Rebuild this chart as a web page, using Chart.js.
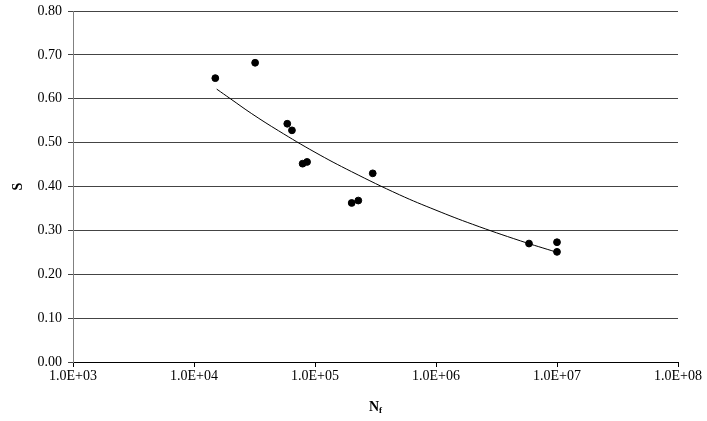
<!DOCTYPE html>
<html>
<head>
<meta charset="utf-8">
<script src="https://cdn.jsdelivr.net/npm/chart.js@4"></script>
<style>
  html, body { margin: 0; padding: 0; background: #fff; }
  #wrap { width: 707px; height: 421px; }
</style>
</head>
<body>
<div id="wrap"><canvas id="snChart"></canvas></div>
<script>
// measured points (cycles to failure, stress ratio)
const cycles = [15000, 32000, 59000, 64500, 79000, 86000, 201000, 228000, 300000, 5870000, 10000000, 10000000];
const stress = [0.647, 0.682, 0.543, 0.528, 0.452, 0.456, 0.3625, 0.368, 0.430, 0.270, 0.273, 0.251];

// trend line
const trendCycles = [15400, 20000, 30000, 50000, 100000, 200000, 500000, 1000000, 2000000, 5000000, 10000000];
const trendStress = [0.622, 0.600, 0.566, 0.527, 0.478, 0.434, 0.381, 0.346, 0.314, 0.276, 0.250];

const xTicks = [1e3, 1e4, 1e5, 1e6, 1e7, 1e8];
const xTickLabels = ['1.0E+03', '1.0E+04', '1.0E+05', '1.0E+06', '1.0E+07', '1.0E+08'];

const serif = 'Liberation Serif, Times New Roman, serif';

// axis titles: "S" rotated and N with subscript f
const axisTitles = {
    id: 'axisTitles',
    afterDraw(chart) {
        const ctx = chart.ctx;
        const area = chart.chartArea;
        ctx.save();
        ctx.fillStyle = '#000';
        ctx.textBaseline = 'middle';

        ctx.font = 'bold 14px ' + serif;
        const cx = (area.left + area.right) / 2;
        const ty = 407;
        const wN = ctx.measureText('N').width;
        ctx.font = 'bold 9px ' + serif;
        const wf = ctx.measureText('f').width;
        const start = cx - (wN + wf) / 2;
        ctx.textAlign = 'left';
        ctx.font = 'bold 14px ' + serif;
        ctx.fillText('N', start, ty);
        ctx.font = 'bold 9px ' + serif;
        ctx.fillText('f', start + wN, ty + 4);

        ctx.translate(18, (area.top + area.bottom) / 2);
        ctx.rotate(-Math.PI / 2);
        ctx.textAlign = 'center';
        ctx.font = 'bold 14px ' + serif;
        ctx.fillText('S', 0, 0);
        ctx.restore();
    }
};

const pts = cycles.map((c, i) => ({ x: c, y: stress[i] }));
const trend = trendCycles.map((c, i) => ({ x: c, y: trendStress[i] }));

new Chart(document.getElementById('snChart'), {
    type: 'scatter',
    data: {
        datasets: [
            {
                data: pts,
                backgroundColor: '#000',
                borderColor: '#000',
                pointRadius: 3.4,
                pointHoverRadius: 3.4
            },
            {
                data: trend,
                showLine: true,
                borderColor: '#000',
                borderWidth: 1,
                pointRadius: 0,
                tension: 0.4,
                fill: false
            }
        ]
    },
    options: {
        responsive: true,
        maintainAspectRatio: false,
        animation: false,
        layout: { padding: { top: 11, right: 29, left: 0, bottom: 0 } },
        plugins: {
            legend: { display: false },
            tooltip: { enabled: false }
        },
        scales: {
            x: {
                type: 'logarithmic',
                min: 1e3,
                max: 1e8,
                afterBuildTicks: scale => { scale.ticks = xTicks.map(v => ({ value: v })); },
                afterFit: scale => { scale.height = 59; },
                ticks: {
                    autoSkip: false,
                    maxRotation: 0,
                    padding: 1,
                    color: '#000',
                    font: { family: serif, size: 14 },
                    callback: (v) => {
                        const i = xTicks.indexOf(v);
                        return i >= 0 ? xTickLabels[i] : '';
                    }
                },
                grid: { drawOnChartArea: false, drawTicks: true, tickLength: 5, color: '#000' },
                border: { color: '#000', width: 1 }
            },
            y: {
                min: 0,
                max: 0.8,
                afterFit: scale => {
                    scale.width = 73;
                    scale.paddingTop = 0;
                    scale.paddingBottom = 0;
                },
                ticks: {
                    stepSize: 0.1,
                    padding: 6,
                    color: '#000',
                    font: { family: serif, size: 14 },
                    callback: v => v.toFixed(2)
                },
                grid: { color: '#444', tickLength: 5, drawTicks: true },
                border: { color: '#808080', width: 1 }
            }
        }
    },
    plugins: [axisTitles]
});
</script>
</body>
</html>
